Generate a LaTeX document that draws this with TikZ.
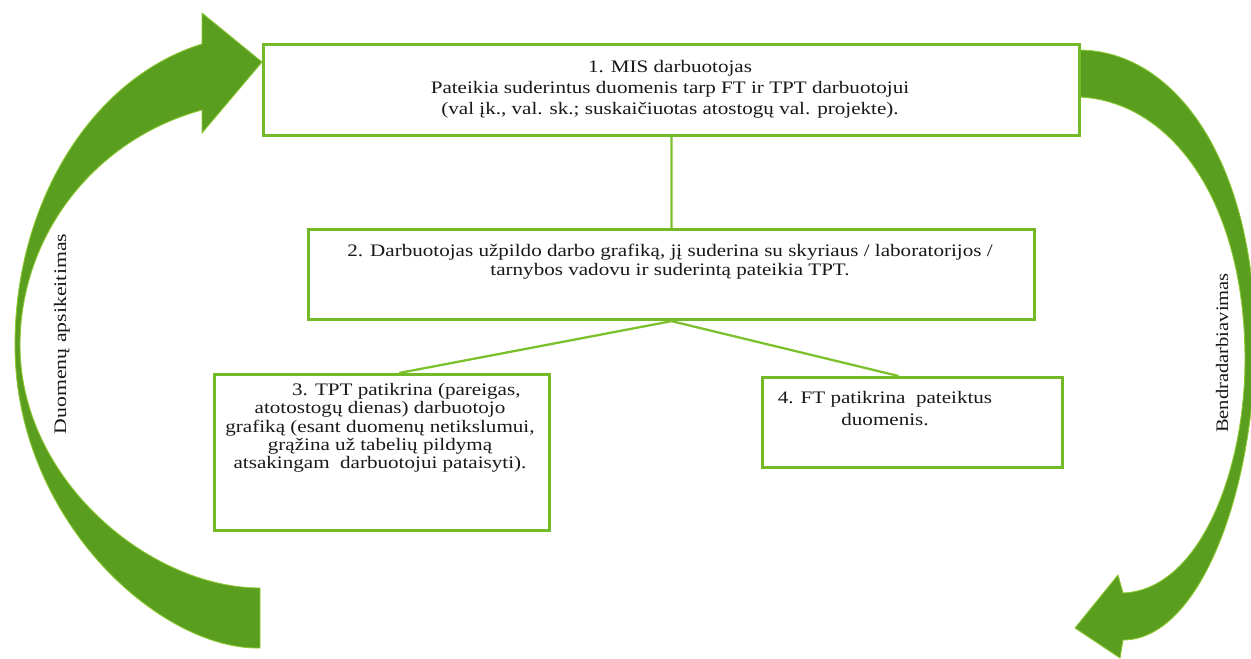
\documentclass[tikz,border=0pt]{standalone}
\usepackage{fontspec}
\setmainfont{Liberation Serif}
\usepackage{graphicx}
\definecolor{boxgreen}{RGB}{116,186,40}
\definecolor{linegreen}{RGB}{124,192,44}
\definecolor{arrowgreen}{RGB}{90,158,32}
\definecolor{arrowedge}{RGB}{140,200,50}
\begin{document}
\begin{tikzpicture}[x=0.02cm,y=-0.02cm,
  stepbox/.style={draw=boxgreen,line width=1.8pt,fill=white,inner sep=0pt,anchor=north west},
  conn/.style={draw=linegreen,line width=1.3pt},
  txt/.style={align=center,xscale=1.2,inner sep=0pt,text=black!90},
  sidelabel/.style={inner sep=0pt,rotate=90,font=\fontsize{10}{12}\selectfont,text=black!90},
  bigarrow/.style={fill=arrowgreen,draw=arrowedge,line width=0.5pt}]
\useasboundingbox (0,0) rectangle (1251,659);
\begin{scope}
\clip (0,0) rectangle (1251,659);
% left curved arrow
\path[bigarrow] (260,648) .. controls (160,650) and (15,520) .. (15,345)
  .. controls (15,202) and (92,78) .. (202,44) -- (202,13) -- (262,62) -- (202,133) -- (202,110)
  .. controls (95,139) and (20,235) .. (20,345)
  .. controls (20,480) and (150,588) .. (260,588) -- cycle;
% right curved arrow
\path[bigarrow] (1078,50) .. controls (1180,50) and (1255,170) .. (1255,340)
  .. controls (1255,490) and (1200,640) .. (1123,640) -- (1120,658) -- (1075,628) -- (1118,575) -- (1123,593)
  .. controls (1200,590) and (1245,470) .. (1245,360)
  .. controls (1245,200) and (1170,100) .. (1078,97) -- cycle;
\end{scope}
% boxes
\node[stepbox,minimum width=16.32cm,minimum height=1.82cm] (b1) at (262,43) {};
\node[stepbox,minimum width=14.52cm,minimum height=1.80cm] (b2) at (307,228) {};
\node[stepbox,minimum width=6.70cm,minimum height=3.12cm] (b3) at (213,373) {};
\node[stepbox,minimum width=6.00cm,minimum height=1.80cm] (b4) at (761,376) {};
% connectors
\draw[conn] (b1.south) -- (b2.north);
\draw[conn] (b2.south) -- ([xshift=0.34cm]b3.north);
\draw[conn] (b2.south) -- ([xshift=-0.28cm]b4.north);
% texts
\node[txt,font=\fontsize{10}{11.9}\selectfont] (t1) at (670,89) {1. MIS darbuotojas\\
Pateikia suderintus duomenis tarp FT ir TPT darbuotojui\\
(val įk., val. sk.; suskaičiuotas atostogų val. projekte).};
\node[txt,font=\fontsize{10}{10.8}\selectfont] (t2) at (670,262) {2. Darbuotojas užpildo darbo grafiką, jį suderina su skyriaus / laboratorijos /\\
tarnybos vadovu ir suderintą pateikia TPT.};
\node[txt,font=\fontsize{10}{10.4}\selectfont] (t3) at (380,428) {\hspace*{2.5em}3. TPT patikrina (pareigas,\\
atotostogų dienas) darbuotojo\\
grafiką (esant duomenų netikslumui,\\
grąžina už tabelių pildymą\\
atsakingam \ darbuotojui pataisyti).};
\node[txt,font=\fontsize{10}{12.5}\selectfont] (t4) at (885,409) {4. FT patikrina \ pateiktus\\
duomenis.};
\node[sidelabel] (l1) at (62,334) {\scalebox{1.24}[1]{Duomenų apsikeitimas}};
\node[sidelabel] (l2) at (1222,353) {\scalebox{1.17}[1]{Bendradarbiavimas}};
\end{tikzpicture}
\end{document}
